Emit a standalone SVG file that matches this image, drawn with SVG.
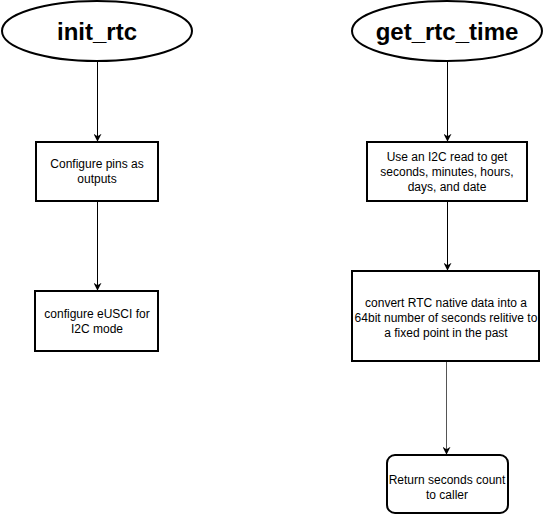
<svg xmlns="http://www.w3.org/2000/svg" width="543" height="517" viewBox="0 0 543 517">
<style>
.t{font-family:"Liberation Sans",Arial,sans-serif;font-weight:bold;font-size:24px;fill:#000;text-anchor:middle}
.s{font-family:"Liberation Sans",Arial,sans-serif;font-size:12px;fill:#000;text-anchor:middle}
.n{fill:#fff;stroke:#000;stroke-width:2}
.c{stroke:#000;stroke-width:1;fill:none;marker-end:url(#a)}
</style>
<defs>
<marker id="a" viewBox="0 0 10 10" refX="9" refY="5" markerWidth="8" markerHeight="8" markerUnits="userSpaceOnUse" orient="auto">
<path d="M0,0 L10,5 L0,10 L3,5 Z" fill="#000"/>
</marker>
</defs>
<rect width="543" height="517" fill="#fff"/>
<g id="connectors">
<line class="c" x1="97.5" y1="62" x2="97.5" y2="141"/>
<line class="c" x1="97.5" y1="201" x2="97.5" y2="290"/>
<line class="c" x1="447.5" y1="62" x2="447.5" y2="141"/>
<line class="c" x1="447.5" y1="201" x2="447.5" y2="270"/>
<line class="c" x1="446.5" y1="361" x2="446.5" y2="454" style="stroke:#555"/>
</g>
<g id="init_rtc">
<ellipse class="n" cx="97" cy="31" rx="95" ry="30"/>
<text class="t" x="97" y="40">init_rtc</text>
</g>
<g id="get_rtc_time">
<ellipse class="n" cx="447" cy="31" rx="95" ry="30"/>
<text class="t" x="447" y="40">get_rtc_time</text>
</g>
<g id="configure_pins">
<rect class="n" x="36" y="142" width="122" height="59"/>
<text class="s" x="97" y="168">Configure pins as</text>
<text class="s" x="97" y="183">outputs</text>
</g>
<g id="configure_eusci">
<rect class="n" x="35" y="291" width="123" height="60"/>
<text class="s" x="97" y="318">configure eUSCI for</text>
<text class="s" x="97" y="333">I2C mode</text>
</g>
<g id="i2c_read">
<rect class="n" x="367" y="142" width="160" height="59"/>
<text class="s" x="447" y="161">Use an I2C read to get</text>
<text class="s" x="447" y="176">seconds, minutes, hours,</text>
<text class="s" x="447" y="191">days, and date</text>
</g>
<g id="convert">
<rect class="n" x="352" y="271" width="187" height="90"/>
<text class="s" x="446" y="307">convert RTC native data into a</text>
<text class="s" x="446" y="322">64bit number of seconds relitive to</text>
<text class="s" x="446" y="337">a fixed point in the past</text>
</g>
<g id="return">
<rect class="n" x="387" y="455" width="121" height="58" rx="8"/>
<text class="s" x="447" y="484">Return seconds count</text>
<text class="s" x="447" y="499">to caller</text>
</g>
</svg>
